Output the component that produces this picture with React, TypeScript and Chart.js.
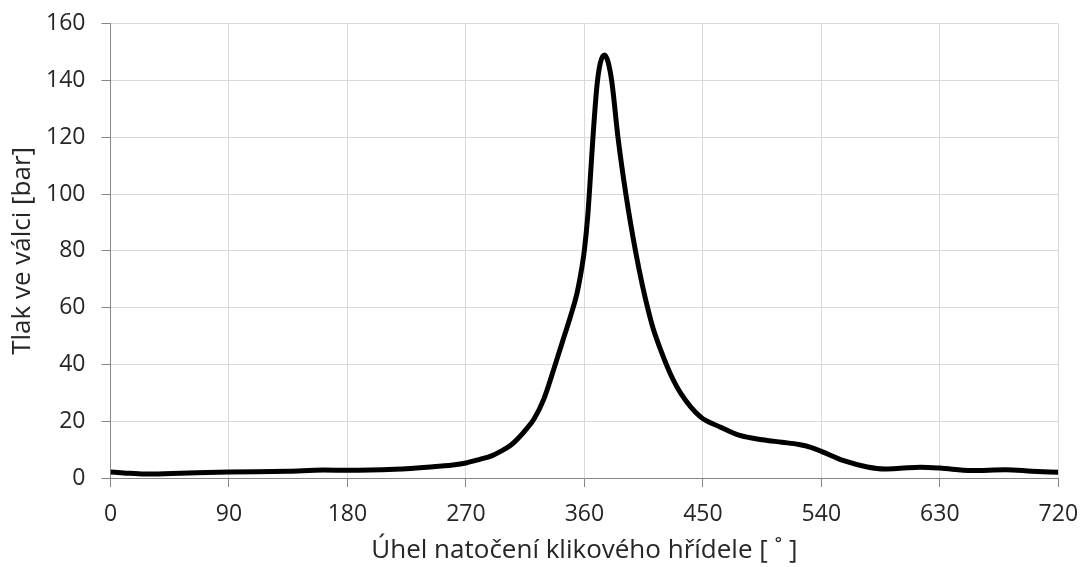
import React, { useEffect, useRef } from "react";
import { Chart, registerables } from "chart.js";

Chart.register(...registerables);

const angles: number[] = [
  0, 10, 26, 47, 90, 135, 162, 180, 216, 243, 260, 270, 280, 290, 296, 304, 311, 316, 321.5, 329,
  336.6, 343, 349.4, 354.4, 358.2, 360, 362.5, 364, 366.5, 369.5, 372, 375.2, 378, 381, 385.5,
  391.5, 398.8, 404, 408, 412, 418, 425, 433, 448, 463, 478, 495, 510, 523, 532, 540, 557, 575, 588, 600,
  615, 630, 654, 680, 700, 720,
];
const pressures: number[] = [
  2.1, 1.8, 1.4, 1.6, 2.1, 2.4, 2.8, 2.7, 3.1, 3.9, 4.6, 5.3, 6.5, 7.9, 9.3, 11.5, 14.6, 17.3, 20.6, 27.6,
  38.1, 47.5, 56.9, 65.1, 74.5, 80.3, 92, 102, 120, 138, 146, 149, 146.5, 139, 120,
  100, 80, 68, 60, 53, 45, 37, 30, 21.6, 18, 15, 13.5, 12.6, 11.8, 10.8, 9.4, 6.1, 3.9, 3.2, 3.4,
  3.8, 3.5, 2.6, 2.9, 2.4, 2.0,
];
const xTickStep = 90;
const yTickStep = 20;
const xTitle = "Úhel natočení klikového hřídele [ ˚ ]";
const yTitle = "Tlak ve válci [bar]";

export default function App() {
  const ref = useRef<HTMLCanvasElement | null>(null);
  useEffect(() => {
    document.body.style.margin = "0";
    const ctx = ref.current!;
    const font = "'Open Sans', sans-serif";
    const chart = new Chart(ctx, {
      type: "scatter",
      data: {
        datasets: [
          {
            data: angles.map((a, i) => ({ x: a, y: pressures[i] })),
            showLine: true,
            borderColor: "#000",
            borderWidth: 5,
            pointRadius: 0,
            cubicInterpolationMode: "monotone",
          } as any,
        ],
      },
      options: {
        responsive: false,
        animation: false,
        layout: { padding: { left: 0, right: 24.7, top: 23.7, bottom: 0 } },
        plugins: { legend: { display: false }, tooltip: { enabled: false } },
        scales: {
          x: {
            type: "linear",
            min: 0,
            max: 720,
            ticks: { stepSize: xTickStep, color: "#262626", font: { family: font, size: 23 }, padding: 14, maxRotation: 0 },
            grid: { color: "#d9d9d9", tickColor: "#868686", tickLength: 9, lineWidth: 1 },
            border: { color: "#868686" },
            title: { display: true, text: xTitle, color: "#262626", font: { family: font, size: 26 }, padding: { top: 0, bottom: 1 } },
            afterFit: (s: any) => { s.height = 89; s.paddingLeft = 0; s.paddingRight = 0; },
          },
          y: {
            min: 0,
            max: 160,
            ticks: { stepSize: yTickStep, color: "#262626", font: { family: font, size: 23 }, padding: 16 },
            grid: { color: "#d9d9d9", tickColor: "#868686", tickLength: 9, lineWidth: 1 },
            border: { color: "#868686" },
            title: { display: true, text: yTitle, color: "#262626", font: { family: font, size: 26 }, padding: { top: 7, bottom: 0 } },
            afterFit: (s: any) => { s.width = 110.5; s.paddingTop = 0; s.paddingBottom = 0; },
          },
        },
      },
    });
    return () => chart.destroy();
  }, []);
  return <canvas ref={ref} width={1083} height={567} />;
}
